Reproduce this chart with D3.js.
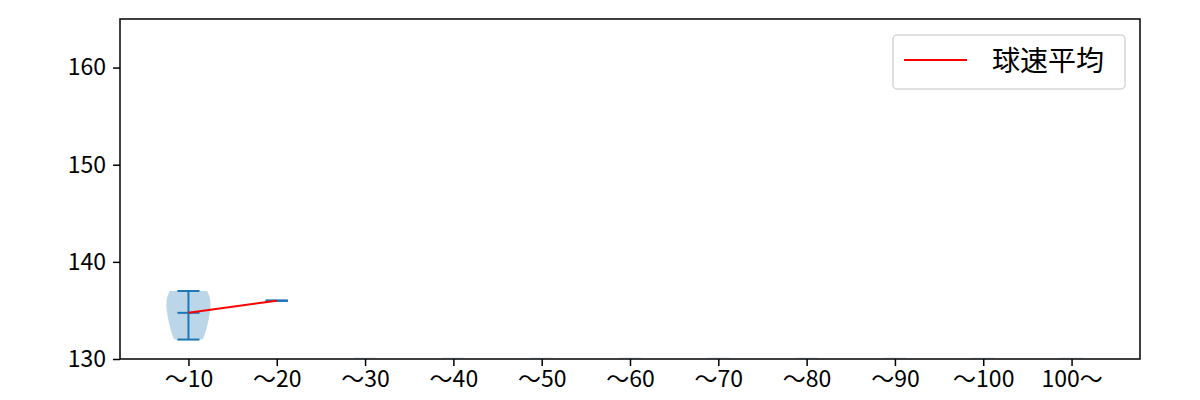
<!DOCTYPE html>
<html>
<head>
<meta charset="utf-8">
<script src="https://cdn.jsdelivr.net/npm/d3@7"></script>
<style>
  body { margin: 0; background: #fff; }
  text { font-family: "Noto Sans CJK JP", "DejaVu Sans", sans-serif; }
</style>
</head>
<body>
<svg id="chart"></svg>
<script>
// categories along x
const categories = ["～10", "～20", "～30", "～40", "～50", "～60", "～70", "～80", "～90", "～100", "100～"];
// speed samples per category
const speeds = [
    [132, 134, 136, 137],
    [136],
    [], [], [], [], [], [], [], [], []
];
const yTicks = [130, 140, 150, 160];
const legendLabel = "球速平均";

const width = 1200, height = 400;
const mLeft = 120, mRight = 1140, mTop = 19, mBottom = 359;
const blue = "#1f77b4";

const svg = d3.select("#chart").attr("width", width).attr("height", height);

const x = d3.scaleLinear().domain([0.225, 11.775]).range([mLeft, mRight]);
const y = d3.scaleLinear().domain([130, 165]).range([mBottom, mTop]);

svg.append("defs").append("clipPath").attr("id", "clip")
    .append("rect").attr("x", mLeft).attr("y", mTop).attr("width", mRight - mLeft).attr("height", mBottom - mTop);
const plot = svg.append("g").attr("clip-path", "url(#clip)");

// gaussian kde with scott's factor, like matplotlib's violinplot
function kde(vals, grid) {
    const n = vals.length;
    const sd = d3.deviation(vals);
    const bw = sd * Math.pow(n, -1 / 5);
    return grid.map(g => d3.sum(vals, v => Math.exp(-0.5 * ((g - v) / bw) ** 2)));
}

const halfW = 0.25, capW = 0.125;
const means = [];
speeds.forEach((vals, i) => {
    const pos = i + 1;
    if (!vals.length) {
        // empty groups leave a faint stub on the bottom edge
        plot.append("line")
            .attr("x1", x(pos - capW)).attr("x2", x(pos + capW))
            .attr("y1", y(130) - 1).attr("y2", y(130) - 1)
            .attr("stroke", blue).attr("stroke-opacity", 0.2).attr("stroke-width", 1);
        return;
    }
    const lo = d3.min(vals), hi = d3.max(vals), mu = d3.mean(vals);
    means.push([pos, mu]);
    if (vals.length > 1) {
        const grid = d3.range(100).map(k => lo + (hi - lo) * k / 99);
        const dens = kde(vals, grid);
        const dmax = d3.max(dens);
        const pts = grid.map((g, k) => [g, dens[k] / dmax * halfW]);
        const area = d3.area()
            .y(d => y(d[0]))
            .x0(d => x(pos - d[1]))
            .x1(d => x(pos + d[1]));
        plot.append("path").datum(pts).attr("d", area)
            .attr("fill", blue).attr("fill-opacity", 0.3);
    }
    const seg = [[pos, lo, pos, hi]];
    for (const v of [lo, hi, mu]) seg.push([pos - capW, v, pos + capW, v]);
    plot.selectAll(null).data(seg).enter().append("line")
        .attr("x1", d => x(d[0])).attr("y1", d => y(d[1]))
        .attr("x2", d => x(d[2])).attr("y2", d => y(d[3]))
        .attr("stroke", blue).attr("stroke-width", 2);
});

plot.append("path").datum(means)
    .attr("d", d3.line().x(d => x(d[0])).y(d => y(d[1])))
    .attr("fill", "none").attr("stroke", "red").attr("stroke-width", 2);

// axes
const xAxis = svg.append("g").attr("transform", `translate(0,${mBottom})`)
    .call(d3.axisBottom(x).tickValues(d3.range(1, 12)).tickFormat(d => categories[d - 1]).tickSizeOuter(0).tickSize(7).tickPadding(5));
const yAxis = svg.append("g").attr("transform", `translate(${mLeft},0)`)
    .call(d3.axisLeft(y).tickValues(yTicks).tickSizeOuter(0).tickSize(7).tickPadding(7));
for (const a of [xAxis, yAxis]) {
    a.select(".domain").remove();
    a.selectAll("line").attr("stroke", "#000").attr("stroke-width", 1.5);
    a.selectAll("text").attr("font-size", 23).attr("fill", "#000")
        .style("font-family", '"Noto Sans CJK JP", sans-serif');
}

svg.append("rect").attr("x", mLeft).attr("y", mTop)
    .attr("width", mRight - mLeft).attr("height", mBottom - mTop)
    .attr("fill", "none").attr("stroke", "#000").attr("stroke-width", 1.5);

// legend
const lg = svg.append("g").attr("transform", "translate(893,35)");
lg.append("rect").attr("width", 232).attr("height", 54).attr("rx", 4)
    .attr("fill", "#fff").attr("fill-opacity", 0.8).attr("stroke", "#d6d6d6").attr("stroke-width", 1.5);
lg.append("line").attr("x1", 11).attr("x2", 74).attr("y1", 25).attr("y2", 25)
    .attr("stroke", "red").attr("stroke-width", 2);
lg.append("text").attr("x", 99).attr("y", 36).attr("font-size", 28)
    .text(legendLabel);
</script>
</body>
</html>
